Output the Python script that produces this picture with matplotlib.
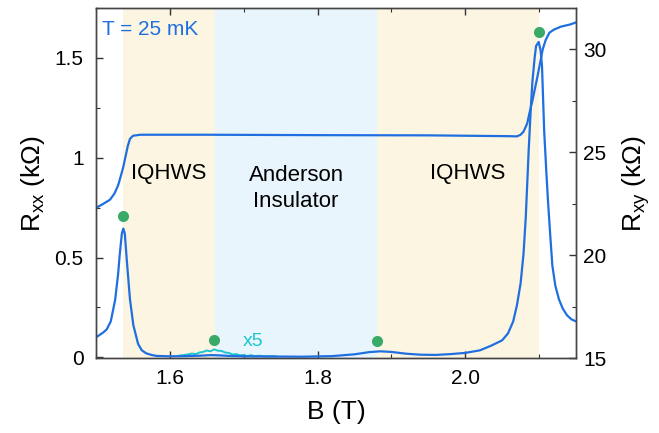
import matplotlib
matplotlib.use('Agg')
import matplotlib.pyplot as plt
from matplotlib.ticker import MultipleLocator, FixedLocator

plt.rcParams['font.family'] = ['Liberation Sans', 'DejaVu Sans']
plt.rcParams['mathtext.default'] = 'regular'

# Rxx (left axis, kOhm)
b_xx = [1.500, 1.510, 1.5145, 1.520, 1.526, 1.530, 1.532, 1.535, 1.537, 1.539,
        1.5416, 1.546, 1.5506, 1.557, 1.562, 1.568, 1.575, 1.582, 1.600, 1.620,
        1.640, 1.655, 1.665, 1.680, 1.700, 1.740, 1.780, 1.820, 1.850, 1.870,
        1.885, 1.900, 1.920, 1.940, 1.960, 1.980, 2.000, 2.020, 2.035, 2.050,
        2.058, 2.065, 2.070, 2.075, 2.079, 2.082, 2.086, 2.089, 2.091, 2.094,
        2.096, 2.0995, 2.102, 2.104, 2.107, 2.110, 2.112, 2.115, 2.118, 2.122,
        2.127, 2.132, 2.138, 2.144, 2.150]
rxx = [0.100, 0.125, 0.140, 0.180, 0.290, 0.420, 0.510, 0.620, 0.645, 0.620,
       0.490, 0.290, 0.160, 0.067, 0.035, 0.020, 0.012, 0.007, 0.005, 0.006,
       0.008, 0.011, 0.010, 0.007, 0.005, 0.004, 0.003, 0.006, 0.015, 0.026,
       0.030, 0.027, 0.018, 0.013, 0.012, 0.016, 0.022, 0.035, 0.058, 0.085,
       0.120, 0.180, 0.260, 0.370, 0.520, 0.700, 1.040, 1.260, 1.380, 1.500,
       1.560, 1.580, 1.540, 1.460, 1.130, 0.920, 0.790, 0.620, 0.460, 0.360,
       0.290, 0.245, 0.210, 0.190, 0.180]

# Rxx x5 (zoomed trace)
b_x5 = [1.612, 1.620, 1.625, 1.630, 1.635, 1.640, 1.645, 1.650, 1.655, 1.660,
        1.665, 1.670, 1.675, 1.680, 1.685, 1.690, 1.695, 1.700, 1.705, 1.710,
        1.715, 1.720, 1.730, 1.743]
rxx_x5 = [0.008, 0.012, 0.015, 0.019, 0.016, 0.024, 0.027, 0.034, 0.030, 0.040,
          0.033, 0.032, 0.024, 0.022, 0.014, 0.016, 0.010, 0.012, 0.006, 0.011,
          0.005, 0.008, 0.005, 0.006]

# Rxy (right axis, kOhm)
b_xy = [1.500, 1.510, 1.519, 1.525, 1.530, 1.534, 1.537, 1.540, 1.543, 1.546,
        1.550, 1.560, 1.650, 1.800, 1.950, 2.060, 2.070, 2.075, 2.079, 2.084,
        2.087, 2.091, 2.098, 2.105, 2.109, 2.114, 2.120, 2.130, 2.142, 2.150]
rxy = [22.3, 22.5, 22.7, 23.0, 23.4, 23.9, 24.3, 24.8, 25.3, 25.65,
       25.8, 25.85, 25.85, 25.83, 25.82, 25.78, 25.77, 25.85, 26.0, 26.4,
       26.9, 27.5, 28.7, 30.0, 30.45, 30.8, 30.95, 31.1, 31.2, 31.3]

# marked points (B, Rxx)
dot_b = [1.537, 1.660, 1.8805, 2.0995]
dot_r = [0.708, 0.088, 0.080, 1.630]

# regions
iqhws_1 = (1.537, 1.661)
anderson = (1.661, 1.880)
iqhws_2 = (1.880, 2.100)

blue = '#1f6fe0'
cyan = '#1cc6d0'

fig = plt.figure(figsize=(6.59, 4.33), dpi=100)
ax = fig.add_axes([0.1457, 0.1725, 0.7283, 0.809])
ax2 = ax.twinx()

ax.axvspan(*iqhws_1, color='#fbf5e2', lw=0, zorder=0)
ax.axvspan(*anderson, color='#e9f5fd', lw=0, zorder=0)
ax.axvspan(*iqhws_2, color='#fbf5e2', lw=0, zorder=0)

ax.plot(b_xx, rxx, color=blue, lw=1.6, zorder=3)
ax.plot(b_x5, rxx_x5, color=cyan, lw=1.4, zorder=2)
ax.plot(dot_b, dot_r, 'o', color='#3aaa68', ms=8, mec='none', zorder=4)
ax2.plot(b_xy, rxy, color=blue, lw=1.6)

ax.set_xlim(1.5, 2.15)
ax.set_ylim(-0.005, 1.75)
ax2.set_ylim(15, 32)

ax.xaxis.set_major_locator(FixedLocator([1.6, 1.8, 2.0]))
ax.set_xticklabels(['1.6', '1.8', '2.0'])
ax.xaxis.set_minor_locator(MultipleLocator(0.1))
ax.yaxis.set_major_locator(FixedLocator([0, 0.5, 1, 1.5]))
ax.set_yticklabels(['0', '0.5', '1', '1.5'])
ax.yaxis.set_minor_locator(MultipleLocator(0.25))
ax2.yaxis.set_major_locator(FixedLocator([15, 20, 25, 30]))
ax2.yaxis.set_minor_locator(MultipleLocator(2.5))

ax.tick_params(axis='x', which='both', direction='in', top=True, labelsize=15, pad=8)
ax.tick_params(axis='y', which='both', direction='in', labelsize=15, pad=9)
ax2.tick_params(axis='y', which='both', direction='in', labelsize=15, pad=5)
for a in (ax, ax2):
    a.tick_params(which='major', length=5, width=1, color='#333333')
    a.tick_params(which='minor', length=3, width=0.8, color='#333333')
    for s in a.spines.values():
        s.set_color('#444444')
        s.set_linewidth(1)

ax.set_xlabel('B (T)', fontsize=19, labelpad=8)
ax.set_ylabel(r'R$_{xx}$ (kΩ)', fontsize=19, labelpad=5)
ax2.set_ylabel(r'R$_{xy}$ (kΩ)', fontsize=19, labelpad=10)

ax.text(1.508, 1.64, 'T = 25 mK', color=blue, fontsize=15, va='center')
ax.text(1.599, 0.92, 'IQHWS', fontsize=16, ha='center', va='center')
ax.text(1.771, 0.845, 'Anderson\nInsulator', fontsize=16, ha='center', va='center', linespacing=1.3)
ax.text(2.003, 0.92, 'IQHWS', fontsize=16, ha='center', va='center')
ax.text(1.713, 0.08, 'x5', color=cyan, fontsize=14, ha='center', va='center')

fig.savefig('out.png', dpi=100)
